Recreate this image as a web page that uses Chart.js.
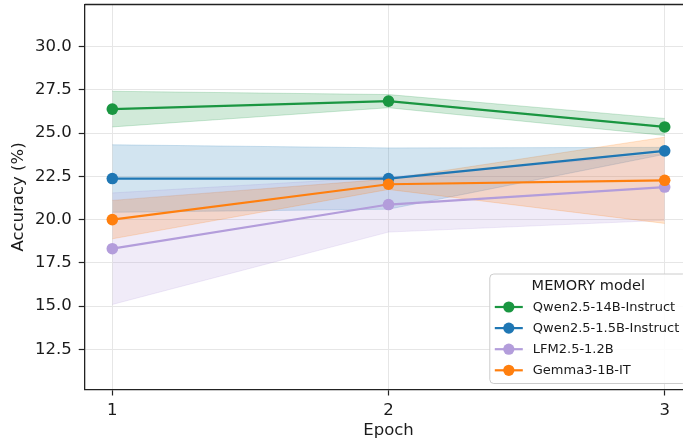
<!DOCTYPE html>
<html>
<head>
<meta charset="utf-8">
<script src="https://cdn.jsdelivr.net/npm/chart.js@4.4.1/dist/chart.umd.min.js"></script>
<style>
  html, body { margin: 0; padding: 0; background: #ffffff; overflow: hidden; width: 683px; height: 444px; }
  /* the plot frame runs a few pixels past the right edge and is clipped */
  #clip { position: relative; width: 683px; height: 444px; overflow: hidden; }
  #chart { display: block; }
</style>
</head>
<body>
<div id="clip"><canvas id="chart" width="693" height="444" style="width:693px;height:444px"></canvas></div>
<script>
// Training epochs on the x axis
const epochs = [1, 2, 3];

// Model names (legend order)
const modelNames = ['Qwen2.5-14B-Instruct', 'Qwen2.5-1.5B-Instruct', 'LFM2.5-1.2B', 'Gemma3-1B-IT'];

// Mean accuracy (%) per epoch
const qwen14Mean = [26.38, 26.84, 25.35];
const qwen15Mean = [22.37, 22.37, 23.97];
const lfmMean    = [18.32, 20.87, 21.88];
const gemmaMean  = [20.00, 22.04, 22.27];

// Standard deviation (%) per epoch, drawn as shaded bands
const qwen14Std = [1.03, 0.38, 0.49];
const qwen15Std = [1.95, 1.77, 0.20];
const lfmStd    = [3.22, 1.59, 1.92];
const gemmaStd  = [1.11, 0.30, 2.49];

// Y axis tick labels
const yTickValues = [12.5, 15.0, 17.5, 20.0, 22.5, 25.0, 27.5, 30.0];

const seriesColors = ['#1a9641', '#1f77b4', '#b39ddb', '#ff7f0e'];
const means = [qwen14Mean, qwen15Mean, lfmMean, gemmaMean];
const stds = [qwen14Std, qwen15Std, lfmStd, gemmaStd];

function withAlpha(hex, a) {
  const n = parseInt(hex.slice(1), 16);
  return `rgba(${(n >> 16) & 255},${(n >> 8) & 255},${n & 255},${a})`;
}

const FONT = "'DejaVu Sans', sans-serif";
const TEXT = '#1a1a1a';
Chart.defaults.font.family = FONT;
Chart.defaults.color = TEXT;

// Shaded mean ± std bands: an upper edge followed by a lower edge filled to it
const datasets = [];
means.forEach((m, i) => {
  const c = seriesColors[i];
  datasets.push({
    label: modelNames[i] + ' upper',
    data: epochs.map((e, k) => ({ x: e, y: m[k] + stds[i][k] })),
    borderColor: withAlpha(c, 0.2), borderWidth: 1, pointRadius: 0,
    fill: false, order: 200 - i
  });
  datasets.push({
    label: modelNames[i] + ' lower',
    data: epochs.map((e, k) => ({ x: e, y: m[k] - stds[i][k] })),
    borderColor: withAlpha(c, 0.2), borderWidth: 1, pointRadius: 0,
    backgroundColor: withAlpha(c, 0.2),
    fill: '-1', order: 100 - i
  });
});
// Mean lines with markers, later models on top
means.forEach((m, i) => {
  const c = seriesColors[i];
  datasets.push({
    label: modelNames[i],
    data: epochs.map((e, k) => ({ x: e, y: m[k] })),
    borderColor: c, backgroundColor: c, borderWidth: 2.2,
    pointRadius: 5.8, pointBackgroundColor: c, pointBorderColor: c, pointBorderWidth: 0,
    pointHoverRadius: 5.8,
    fill: false, order: 10 - i
  });
});

// Top/right frame lines around the plot area
const framePlugin = {
  id: 'frame',
  afterDatasetsDraw(chart) {
    const { ctx, chartArea: a } = chart;
    ctx.save();
    ctx.strokeStyle = '#222222';
    ctx.lineWidth = 1.3;
    ctx.beginPath();
    ctx.moveTo(a.left, a.top);
    ctx.lineTo(a.right, a.top);
    ctx.lineTo(a.right, a.bottom);
    ctx.stroke();
    ctx.restore();
  }
};

// Legend box in the lower right corner of the plot area
const legendPlugin = {
  id: 'boxLegend',
  afterDraw(chart) {
    const { ctx, chartArea: a } = chart;
    const w = 197, h = 109.5;
    const x = a.right - 5.5 - w, y = a.bottom - 6 - h;
    ctx.save();
    ctx.beginPath();
    ctx.roundRect(x, y, w, h, 4);
    ctx.fillStyle = 'rgba(255,255,255,0.85)';
    ctx.fill();
    ctx.strokeStyle = '#cccccc';
    ctx.lineWidth = 1;
    ctx.stroke();

    ctx.fillStyle = TEXT;
    ctx.font = `14.5px ${FONT}`;
    ctx.textAlign = 'center';
    ctx.textBaseline = 'middle';
    ctx.fillText('MEMORY model', x + w / 2, y + 12);

    ctx.font = `13px ${FONT}`;
    ctx.textAlign = 'left';
    modelNames.forEach((name, i) => {
      const ry = y + 33 + i * 21.1;
      const c = seriesColors[i];
      ctx.strokeStyle = c;
      ctx.lineWidth = 2.2;
      ctx.beginPath();
      ctx.moveTo(x + 5, ry);
      ctx.lineTo(x + 33, ry);
      ctx.stroke();
      ctx.fillStyle = c;
      ctx.beginPath();
      ctx.arc(x + 19, ry, 5.6, 0, Math.PI * 2);
      ctx.fill();
      ctx.fillStyle = TEXT;
      ctx.fillText(name, x + 43, ry + 0.5);
    });
    ctx.restore();
  }
};

new Chart(document.getElementById('chart'), {
  type: 'line',
  data: { datasets },
  options: {
    responsive: false,
    animation: false,
    devicePixelRatio: 1,
    layout: { autoPadding: false, padding: { top: 4.5, right: 0.7, bottom: 0, left: 0 } },
    plugins: {
      legend: { display: false },
      tooltip: { enabled: false },
      filler: { propagate: false }
    },
    elements: { line: { tension: 0 } },
    scales: {
      x: {
        type: 'linear',
        min: 0.9,
        max: 3.1,
        ticks: {
          stepSize: 1,
          includeBounds: false,
          autoSkip: false,
          maxRotation: 0,
          padding: 5,
          color: TEXT,
          font: { size: 16.5 },
          callback: v => String(v)
        },
        grid: { color: '#e6e6e6', lineWidth: 1, drawTicks: true, tickLength: 6, tickColor: '#222222', tickWidth: 1.2 },
        border: { color: '#222222', width: 1.3 },
        title: { display: true, text: 'Epoch', color: TEXT, font: { size: 16.5 }, padding: { top: 0, bottom: 3 } },
        afterFit(s) { s.height = 54.5; s.paddingLeft = 0; s.paddingRight = 0; }
      },
      y: {
        type: 'linear',
        min: 10.19,
        max: 32.42,
        afterBuildTicks(s) { s.ticks = yTickValues.map(v => ({ value: v })); },
        ticks: {
          padding: 7,
          color: TEXT,
          font: { size: 16.5 },
          callback: v => Number(v).toFixed(1)
        },
        grid: { color: '#e6e6e6', lineWidth: 1, drawTicks: true, tickLength: 6, tickColor: '#222222', tickWidth: 1.2 },
        border: { color: '#222222', width: 1.3 },
        title: { display: true, text: 'Accuracy (%)', color: TEXT, font: { size: 16.5 }, padding: { top: 9, bottom: 0 } },
        afterFit(s) { s.width = 84.7; s.paddingTop = 0; s.paddingBottom = 0; }
      }
    }
  },
  plugins: [framePlugin, legendPlugin]
});
</script>
</body>
</html>
